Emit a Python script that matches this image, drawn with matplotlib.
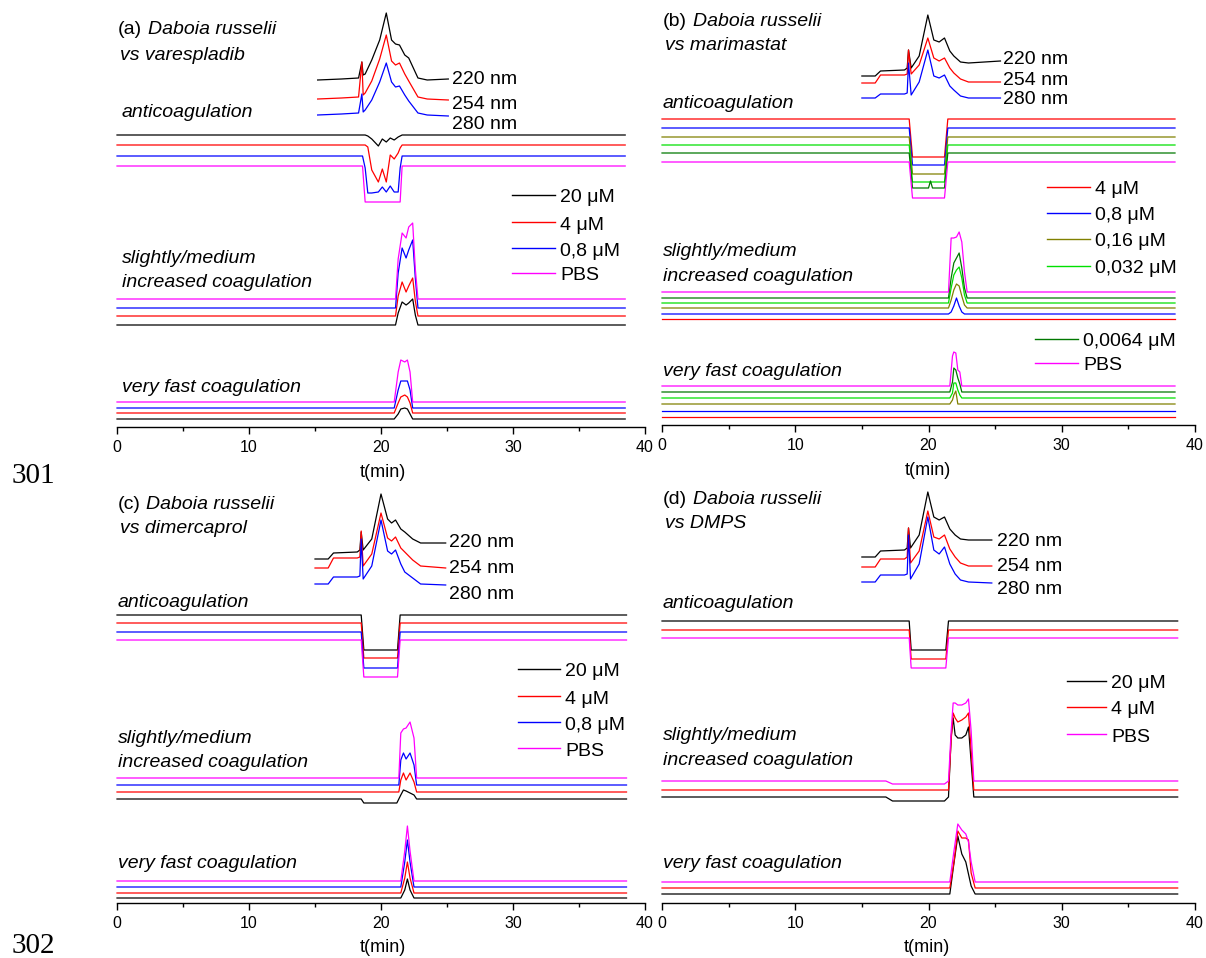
import matplotlib
matplotlib.use("Agg")
import matplotlib.pyplot as plt
from matplotlib.lines import Line2D
import numpy as np

plt.rcParams['font.family'] = ['Liberation Sans', 'DejaVu Sans']

W, H = 1206, 958

# signal heights (px above each trace's own baseline)

# (a) Daboia russelii vs varespladib
a_conc = ["20 μM", "4 μM", "0,8 μM", "PBS"]
a_chrom_t = [15.2, 17.0, 18.3, 18.55, 18.65, 18.8, 19.3, 19.9, 20.4, 20.8, 21.1, 21.4, 21.8, 22.1, 22.8, 23.5, 25.1]
a_220 = [0, 1, 2, 18, 5, 6, 20, 40, 67, 40, 36, 35, 25, 22, 2, 0, 1]
a_254 = [0, 1, 2, 37, 4, 6, 18, 40, 64, 38, 34, 36, 25, 18, 2, 0, -1]
a_280 = [0, 1, 2, 21, 3, 5, 15, 33, 52, 33, 28, 29, 20, 14, 2, 0, -1]
a_anti_t = [0, 18.6, 18.8, 19.0, 19.3, 19.8, 20.1, 20.4, 20.7, 21.0, 21.3, 21.45, 21.6, 38.5]
a_anti = [
    [0, 0, 0, -1, -4, -11, -4, -7, -3, -5, -2, -1, 0, 0],
    [0, 0, 0, -2, -25, -37, -24, -37, -10, -14, -8, -3, 0, 0],
    [0, 0, -12, -37, -37, -36, -31, -36, -30, -36, -36, -12, 0, 0],
    [0, 0, -36, -36, -36, -36, -36, -36, -36, -36, -36, -36, 0, 0],
]
a_coag_t = [0, 21.1, 21.3, 21.6, 21.9, 22.1, 22.4, 22.6, 22.8, 38.5]
a_coag = [
    [0, 0, 12, 23, 20, 22, 26, 10, 0, 0],
    [0, 0, 20, 34, 24, 30, 38, 15, 0, 0],
    [0, 0, 35, 60, 50, 58, 68, 30, 0, 0],
    [0, 0, 40, 66, 61, 72, 76, 30, 0, 0],
]
a_fast_t = [0, 21.0, 21.3, 21.5, 21.8, 22.0, 22.2, 22.4, 38.5]
a_fast = [
    [0, 0, 5, 10, 11, 10, 5, 0, 0],
    [0, 0, 10, 16, 18, 16, 10, 0, 0],
    [0, 0, 18, 27, 27, 27, 18, 0, 0],
    [0, 0, 30, 42, 40, 42, 30, 0, 0],
]

# (b) Daboia russelii vs marimastat
b_conc = ["4 μM", "0,8 μM", "0,16 μM", "0,032 μM", "0,0064 μM", "PBS"]
b_chrom_t = [15.0, 16.0, 16.4, 18.2, 18.4, 18.5, 18.7, 19.3, 19.95, 20.4, 20.8, 21.2, 21.6, 21.9, 22.4, 23.0, 25.4]
b_220 = [0, 0, 5, 6, 8, 26, 8, 20, 61, 36, 34, 38, 25, 20, 14, 13, 15]
b_254 = [0, 0, 8, 8, 9, 33, 9, 18, 45, 25, 22, 25, 15, 10, 4, 1, 1]
b_280 = [0, 0, 4, 4, 5, 35, 3, 16, 48, 22, 20, 23, 12, 8, 2, 0, 0]
b_anti_t = [0, 18.55, 18.8, 20.0, 20.15, 20.3, 21.2, 21.45, 38.5]
b_anti = [
    [0, 0, -38, -38, -38, -38, -38, 0, 0],
    [0, 0, -37, -37, -37, -37, -37, 0, 0],
    [0, 0, -37, -37, -37, -37, -37, 0, 0],
    [0, 0, -37, -37, -37, -37, -37, 0, 0],
    [0, 0, -35, -35, -28, -35, -35, 0, 0],
    [0, 0, -36, -36, -36, -36, -36, 0, 0],
]
b_coag_t = [0, 21.5, 21.7, 21.9, 22.1, 22.3, 22.5, 22.7, 22.9, 38.5]
b_coag = [
    [0, 0, 0, 0, 0, 0, 0, 0, 0, 0],
    [0, 0, 2, 8, 16, 8, 2, 0, 0, 0],
    [0, 0, 8, 18, 24, 22, 12, 3, 0, 0],
    [0, 0, 15, 28, 33, 36, 25, 8, 0, 0],
    [0, 0, 20, 35, 40, 45, 30, 10, 0, 0],
    [0, 0, 54, 54, 55, 60, 50, 20, 0, 0],
]
b_fast_t = [0, 21.6, 21.8, 21.9, 22.05, 22.2, 22.35, 22.5, 38.5]
b_fast = [
    [0, 0, 0, 0, 0, 0, 0, 0, 0],
    [0, 0, 0, 0, 0, 0, 0, 0, 0],
    [0, 0, 4, 9, 13, 0, 0, 0, 0],
    [0, 0, 5, 15, 15, 8, 3, 0, 0],
    [0, 0, 10, 24, 22, 14, 8, 0, 0],
    [0, 0, 30, 34, 33, 16, 14, 0, 0],
]

# (c) Daboia russelii vs dimercaprol
c_conc = ["20 μM", "4 μM", "0,8 μM", "PBS"]
c_chrom_t = [15.0, 16.0, 16.4, 18.2, 18.4, 18.5, 18.65, 19.3, 20.0, 20.5, 20.8, 21.1, 21.5, 21.8, 22.4, 23.0, 24.9]
c_220 = [0, 0, 6, 7, 9, 27, 9, 20, 65, 40, 36, 39, 30, 27, 20, 16, 16]
c_254 = [0, 0, 10, 10, 11, 37, 2, 14, 55, 30, 27, 31, 20, 16, 8, 2, 0]
c_280 = [0, 0, 7, 7, 8, 45, 5, 18, 64, 33, 30, 34, 20, 12, 6, 0, -1]
c_anti_t = [0, 18.5, 18.7, 21.25, 21.45, 38.6]
c_anti = [
    [0, 0, -35, -35, 0, 0],
    [0, 0, -35, -35, 0, 0],
    [0, 0, -36, -36, 0, 0],
    [0, 0, -37, -37, 0, 0],
]
c_coag_t = [0, 18.5, 18.7, 21.2, 21.35, 21.5, 21.7, 21.9, 22.2, 22.5, 22.7, 38.6]
c_coag = [
    [0, 0, -4, -4, 0, 4, 9, 8, 6, 4, 0, 0],
    [0, 0, 0, 0, 0, 12, 19, 12, 19, 10, 0, 0],
    [0, 0, 0, 0, 0, 25, 32, 26, 32, 20, 0, 0],
    [0, 0, 0, 0, 0, 45, 49, 50, 56, 40, 0, 0],
]
c_fast_t = [0, 21.5, 21.8, 22.0, 22.2, 22.5, 38.6]
c_fast = [
    [0, 0, 8, 19, 8, 0, 0],
    [0, 0, 15, 31, 15, 0, 0],
    [0, 0, 25, 47, 25, 0, 0],
    [0, 0, 30, 55, 30, 0, 0],
]

# (d) Daboia russelii vs DMPS
d_conc = ["20 μM", "4 μM", "PBS"]
d_chrom_t = [15.0, 16.0, 16.4, 18.2, 18.4, 18.5, 18.65, 19.3, 19.95, 20.4, 20.8, 21.2, 21.6, 22.0, 22.4, 23.0, 24.75]
d_220 = [0, 0, 6, 7, 9, 29, 9, 22, 65, 40, 37, 40, 28, 22, 18, 17, 17]
d_254 = [0, 0, 8, 8, 10, 39, 4, 16, 56, 30, 28, 32, 18, 10, 4, 1, 1]
d_280 = [0, 0, 7, 7, 8, 47, 3, 18, 65, 32, 28, 35, 18, 8, 2, 0, -1]
d_anti_t = [0, 18.55, 18.7, 21.3, 21.5, 38.7]
d_anti = [
    [0, 0, -29, -29, 0, 0],
    [0, 0, -29, -29, 0, 0],
    [0, 0, -30, -30, 0, 0],
]
d_coag_t = [0, 16.8, 17.3, 21.2, 21.5, 21.7, 21.85, 22.0, 22.2, 22.5, 22.8, 23.0, 23.2, 23.4, 38.7]
d_coag = [
    [0, 0, -4, -4, 0, 60, 79, 62, 59, 59, 62, 70, 35, 0, 0],
    [0, 0, 0, 0, 0, 50, 77, 72, 68, 70, 73, 77, 40, 0, 0],
    [0, 0, -3, -3, 0, 50, 78, 78, 76, 76, 78, 82, 50, 0, 0],
]
d_fast_t = [0, 21.6, 21.9, 22.2, 22.5, 22.8, 23.0, 23.2, 23.5, 38.7]
d_fast = [
    [0, 0, 30, 58, 40, 32, 20, 8, 0, 0],
    [0, 0, 25, 57, 50, 50, 48, 15, 0, 0],
    [0, 0, 30, 58, 52, 48, 40, 20, 0, 0],
]

wavelengths = ["220 nm", "254 nm", "280 nm"]

# colours
BLK, RED, BLU, MAG = "#000000", "#ff0000", "#0000ff", "#ff00ff"
OLV, LGR, DGR = "#808000", "#00e000", "#007800"
col4 = [BLK, RED, BLU, MAG]
col6 = [RED, BLU, OLV, LGR, DGR, MAG]
col3 = [BLK, RED, MAG]
LW = 0.9
FS = 14

fig = plt.figure(figsize=(W / 100, H / 100), dpi=100)


def ftext(x, y, s, **kw):
    kw.setdefault("size", FS)
    kw.setdefault("va", "baseline")
    return fig.text(x / W, 1 - y / H, s, **kw)


def panel_axes(x0, x40, axis_y, top_y):
    ax = fig.add_axes([x0 / W, 1 - axis_y / H, (x40 - x0) / W, (axis_y - top_y) / H])
    ax.set_xlim(0, 40)
    ax.set_ylim(0, axis_y - top_y)
    ax.patch.set_visible(False)
    for s in ("left", "right", "top"):
        ax.spines[s].set_visible(False)
    ax.spines["bottom"].set_linewidth(1.0)
    ax.set_yticks([])
    ax.set_xticks([0, 10, 20, 30, 40])
    ax.set_xticks([5, 15, 25, 35], minor=True)
    ax.tick_params(axis="x", which="major", direction="out", length=5, width=1, labelsize=11.5, pad=4)
    ax.tick_params(axis="x", which="minor", direction="out", length=3, width=1)
    return ax


def traces(ax, t, rows, bases, colors):
    for vals, base, c in zip(rows, bases, colors):
        ax.plot(t, np.asarray(vals) + base, color=c, lw=LW, clip_on=False)


def legend(x1, x2, ys, labels, colors):
    for y, lab, c in zip(ys, labels, colors):
        fig.add_artist(Line2D([x1 / W, x2 / W], [1 - y / H, 1 - y / H], color=c, lw=1.0,
                              transform=fig.transFigure))
        ftext(x2 + 5, y + 7.5, lab)


def title(ax, x, y1, y2, tag, second):
    t1 = ftext(x, y1, tag)
    ax.annotate("Daboia russelii", xy=(1, 0), xycoords=t1, xytext=(4, 0),
                textcoords="offset points", va="bottom", ha="left",
                style="italic", size=FS, annotation_clip=False)
    ftext(x + 2, y2, second, style="italic")


# (a)
axa = panel_axes(117, 645, 427, 0)
traces(axa, a_chrom_t, [a_220, a_254, a_280], [347, 328, 312], [BLK, RED, BLU])
traces(axa, a_anti_t, a_anti, [292, 282, 271, 261], col4)
traces(axa, a_coag_t, a_coag, [102, 111, 119, 128], col4)
traces(axa, a_fast_t, a_fast, [8, 14, 19, 25], col4)
title(axa, 118, 34, 60, "(a)", "vs varespladib")
for lab, y in zip(wavelengths, [84, 109, 129]):
    ftext(452, y, lab)
ftext(122, 117, "anticoagulation", style="italic")
ftext(122, 263, "slightly/medium", style="italic")
ftext(122, 287, "increased coagulation", style="italic")
ftext(122, 392, "very fast coagulation", style="italic")
legend(512, 555, [195, 222, 248, 273], a_conc, col4)
ftext(383, 472, "t(min)", size=13, va="center", ha="center")

# (b)
axb = panel_axes(662, 1195, 425, 0)
traces(axb, b_chrom_t, [b_220, b_254, b_280], [349, 342, 327], [BLK, RED, BLU])
traces(axb, b_anti_t, b_anti, [306, 297, 288, 280, 272, 263], col6)
traces(axb, b_coag_t, b_coag, [106, 111, 117, 122, 127, 133], col6)
traces(axb, b_fast_t, b_fast, [8, 14, 21, 27, 33, 39], col6)
title(axb, 663, 26, 50, "(b)", "vs marimastat")
for lab, y in zip(wavelengths, [64, 85, 104]):
    ftext(1003, y, lab)
ftext(663, 108, "anticoagulation", style="italic")
ftext(663, 256, "slightly/medium", style="italic")
ftext(663, 281, "increased coagulation", style="italic")
ftext(663, 376, "very fast coagulation", style="italic")
legend(1047, 1090, [187, 213, 239, 266], b_conc[:4], col6[:4])
legend(1035, 1078, [339, 363], b_conc[4:], col6[4:])
ftext(928, 470, "t(min)", size=13, va="center", ha="center")

# (c)
axc = panel_axes(117, 645, 903, 480)
traces(axc, c_chrom_t, [c_220, c_254, c_280], [344, 335, 319], [BLK, RED, BLU])
traces(axc, c_anti_t, c_anti, [288, 280, 271, 263], col4)
traces(axc, c_coag_t, c_coag, [104, 111, 118, 125], col4)
traces(axc, c_fast_t, c_fast, [5, 10, 16, 22], col4)
title(axc, 118, 509, 533, "(c)", "vs dimercaprol")
for lab, y in zip(wavelengths, [547, 573, 599]):
    ftext(449, y, lab)
ftext(118, 607, "anticoagulation", style="italic")
ftext(118, 743, "slightly/medium", style="italic")
ftext(118, 767, "increased coagulation", style="italic")
ftext(118, 868, "very fast coagulation", style="italic")
legend(518, 560, [669, 696, 722, 748], c_conc, col4)
ftext(383, 948, "t(min)", size=13, va="center", ha="center")

# (d)
axd = panel_axes(662, 1195, 903, 480)
traces(axd, d_chrom_t, [d_220, d_254, d_280], [346, 336, 321], [BLK, RED, BLU])
traces(axd, d_anti_t, d_anti, [282, 273, 265], col3)
traces(axd, d_coag_t, d_coag, [106, 113, 122], col3)
traces(axd, d_fast_t, d_fast, [9, 15, 21], col3)
title(axd, 663, 504, 528, "(d)", "vs DMPS")
for lab, y in zip(wavelengths, [546, 571, 594]):
    ftext(997, y, lab)
ftext(663, 608, "anticoagulation", style="italic")
ftext(663, 740, "slightly/medium", style="italic")
ftext(663, 765, "increased coagulation", style="italic")
ftext(663, 868, "very fast coagulation", style="italic")
legend(1067, 1106, [681, 707, 734], d_conc, col3)
ftext(927, 947, "t(min)", size=13, va="center", ha="center")

# page line numbers
ftext(12, 483, "301", size=21, family="Liberation Serif")
ftext(12, 953, "302", size=21, family="Liberation Serif")

fig.savefig("out.png", dpi=100)
